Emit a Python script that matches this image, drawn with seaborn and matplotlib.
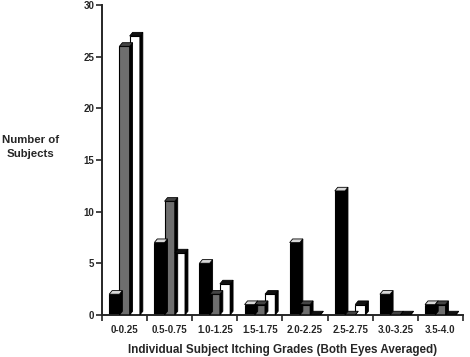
import pandas as pd
import matplotlib
matplotlib.use('Agg')
import matplotlib.pyplot as plt
import seaborn as sns
from matplotlib.patches import Polygon

# Data
grades = ['0-0.25', '0.5-0.75', '1.0-1.25', '1.5-1.75',
          '2.0-2.25', '2.5-2.75', '3.0-3.25', '3.5-4.0']
black_counts = [2, 7, 5, 1, 7, 12, 2, 1]
gray_counts = [26, 11, 2, 1, 1, 0, 0, 1]
white_counts = [27, 6, 3, 2, 0, 1, 0, 0]
series = ['black', 'gray', 'white']

df = pd.DataFrame({
    'grade': grades * 3,
    'series': [s for s in series for _ in grades],
    'count': black_counts + gray_counts + white_counts,
})

face_colors = ['#000000', '#6e6e6e', '#ffffff']
top_colors = {'#000000': '#d8d8d8', '#6e6e6e': '#444444', '#ffffff': '#111111'}

sns.set_style('ticks')
plt.rcParams['font.family'] = ['Liberation Sans', 'DejaVu Sans']

fig = plt.figure(figsize=(4.7, 3.57), dpi=100)
ax = fig.add_axes([0.217, 0.118, 0.768, 0.868])

sns.barplot(data=df, x='grade', y='count', hue='series', palette=face_colors,
            saturation=1, edgecolor='black', linewidth=0.8, width=0.68,
            legend=False, ax=ax)

# fake 3D depth: side and top faces derived from each bar
dx, dy = 0.065, 0.35
for p in list(ax.patches):
    x0 = p.get_x()
    x1 = x0 + p.get_width()
    h = p.get_height()
    fc = matplotlib.colors.to_hex(p.get_facecolor())
    side = Polygon([(x1, 0), (x1 + dx, dy), (x1 + dx, h + dy), (x1, h)],
                   closed=True, facecolor='black', edgecolor='black', lw=0.6, zorder=3)
    top = Polygon([(x0, h), (x0 + dx, h + dy), (x1 + dx, h + dy), (x1, h)],
                  closed=True, facecolor=top_colors.get(fc, '#cccccc'),
                  edgecolor='black', lw=0.6, zorder=3)
    ax.add_patch(side)
    ax.add_patch(top)

ax.set_ylim(0, 30)
ax.set_xlim(-0.5, len(grades) - 0.5)
ax.set_yticks(range(0, 31, 5))
ax.set_xticks([i - 0.5 for i in range(len(grades) + 1)])
ax.set_xticklabels([])
ax.set_xticks(range(len(grades)), minor=True)
ax.set_xticklabels(grades, minor=True)
ax.tick_params(axis='x', which='minor', length=0, pad=7)
ax.tick_params(axis='both', which='major', length=4, width=1.2, direction='out')
ax.tick_params(axis='y', pad=1.5)
for lab in ax.get_xticklabels(minor=True) + ax.get_yticklabels():
    lab.set_fontsize(7)
    lab.set_fontweight('bold')
for s in ['left', 'bottom']:
    ax.spines[s].set_linewidth(1.4)
sns.despine(ax=ax)

ax.set_xlabel('Individual Subject Itching Grades (Both Eyes Averaged)',
              fontsize=8.4, fontweight='bold', labelpad=7)
ax.set_ylabel('')
fig.text(0.064, 0.607, 'Number of', ha='center', va='center',
         fontsize=8.2, fontweight='bold')
fig.text(0.064, 0.570, 'Subjects', ha='center', va='center',
         fontsize=8.2, fontweight='bold')

fig.savefig('out.png', dpi=100)
